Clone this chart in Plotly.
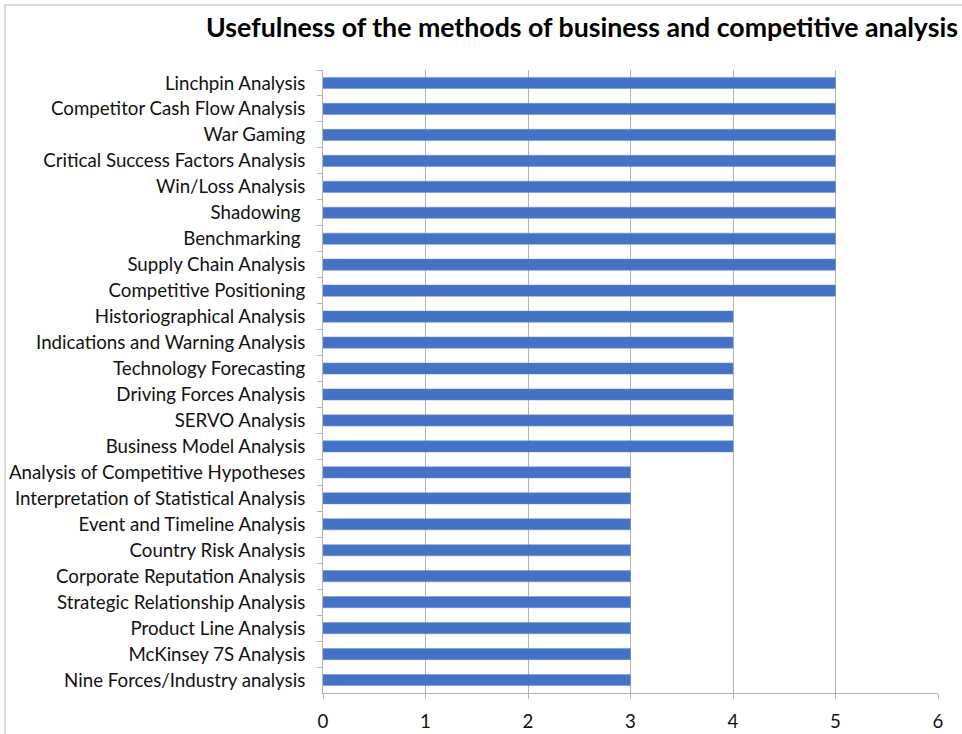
import plotly.graph_objects as go

# Methods, listed top to bottom as shown on the chart
methods = [
    "Linchpin Analysis",
    "Competitor Cash Flow Analysis",
    "War Gaming",
    "Critical Success Factors Analysis",
    "Win/Loss Analysis",
    "Shadowing\u00a0",
    "Benchmarking\u00a0",
    "Supply Chain Analysis",
    "Competitive Positioning",
    "Historiographical Analysis",
    "Indications and Warning Analysis",
    "Technology Forecasting",
    "Driving Forces Analysis",
    "SERVO Analysis",
    "Business Model Analysis",
    "Analysis of Competitive Hypotheses",
    "Interpretation of Statistical Analysis",
    "Event and Timeline Analysis",
    "Country Risk Analysis",
    "Corporate Reputation Analysis",
    "Strategic Relationship Analysis",
    "Product Line Analysis",
    "McKinsey 7S Analysis",
    "Nine Forces/Industry analysis",
]
usefulness = [5, 5, 5, 5, 5, 5, 5, 5, 5,
              4, 4, 4, 4, 4, 4,
              3, 3, 3, 3, 3, 3, 3, 3, 3]
x_ticks = [0, 1, 2, 3, 4, 5, 6]

FONT = "Lato, 'Open Sans', sans-serif"
GRID = "#b3b3b3"

fig = go.Figure(
    go.Bar(
        x=usefulness,
        y=methods,
        orientation="h",
        marker=dict(color="#4472C4", line=dict(color="#6a8fd4", width=0.5)),
        hoverinfo="x+y",
    )
)

L, R, T, B = 323, 24, 70, 41
W, H = 962, 734
pw, ph = W - L - R, H - T - B

fig.update_layout(
    width=W,
    height=H,
    margin=dict(l=L, r=R, t=T, b=B, autoexpand=False),
    paper_bgcolor="white",
    plot_bgcolor="white",
    bargap=0.57,
    showlegend=False,
    font=dict(family=FONT, size=18.7, color="#111111"),
    title=dict(
        text="<b>Usefulness of the methods of business and competitive analysis</b>",
        x=582 / W,
        xanchor="center",
        y=1 - 28 / H,
        yanchor="middle",
        font=dict(family=FONT, size=26.7, color="#000000"),
    ),
    xaxis=dict(
        range=[0, 6],
        tickvals=x_ticks,
        ticktext=[str(v) for v in x_ticks],
        showgrid=True,
        gridcolor=GRID,
        gridwidth=1,
        zeroline=False,
        showline=True,
        linecolor=GRID,
        linewidth=1,
        ticks="outside",
        ticklen=5,
        tickcolor=GRID,
        ticklabelstandoff=7,
        tickfont=dict(size=18.7),
        automargin=False,
        fixedrange=True,
    ),
    yaxis=dict(
        autorange="reversed",
        showgrid=False,
        zeroline=False,
        showline=True,
        linecolor=GRID,
        linewidth=1,
        ticks="outside",
        tickson="boundaries",
        ticklen=5,
        tickcolor=GRID,
        ticklabelstandoff=13,
        tickfont=dict(size=18.7),
        automargin=False,
        fixedrange=True,
    ),
    shapes=[
        # Chart frame
        dict(
            type="rect",
            xref="paper",
            yref="paper",
            x0=(5 - L) / pw,
            x1=(W + 20 - L) / pw,
            y0=-(B + 20) / ph,
            y1=1 + (T - 5) / ph,
            line=dict(color="#d0d0d0", width=1.5),
            layer="below",
        )
    ],
)

fig.write_html("out.html")
